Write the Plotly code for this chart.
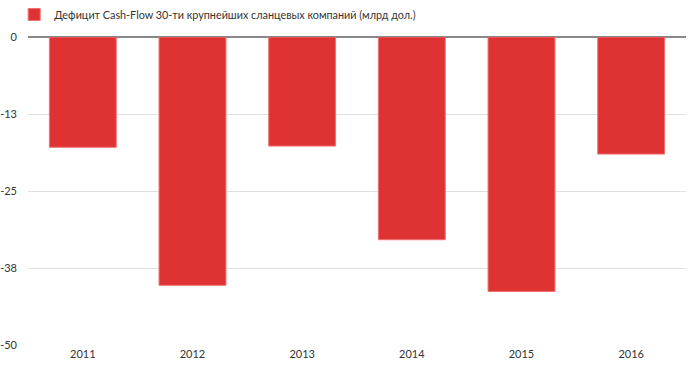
import plotly.graph_objects as go

years = ["2011", "2012", "2013", "2014", "2015", "2016"]
deficit = [-17.9, -40.3, -17.7, -32.9, -41.3, -19.0]
series_name = "Дефицит Cash-Flow 30-ти крупнейших сланцевых компаний (млрд дол.)"
tick_vals = [0, -12.5, -25, -37.5, -50]
tick_text = ["0", "-13", "-25", "-38", "-50"]

fig = go.Figure()
fig.add_trace(go.Bar(
    x=years, y=deficit, name=series_name,
    marker=dict(color="#df3333", line=dict(color="#f07070", width=1)),
    width=0.61, showlegend=True,
))

fig.update_layout(
    width=691, height=377,
    margin=dict(l=28, r=5, t=37, b=31, autoexpand=False),
    paper_bgcolor="white", plot_bgcolor="white",
    font=dict(family="Lato, Noto Sans, sans-serif", size=11, color="#333333"),
    showlegend=True,
    legend=dict(x=-0.021, y=1.026, xanchor="left", yanchor="bottom",
                orientation="h", font=dict(size=10.8, color="#333333"),
                bgcolor="rgba(0,0,0,0)", borderwidth=0,
                tracegroupgap=0, itemwidth=30),
    bargap=0.39,
)
fig.update_xaxes(showgrid=False, showline=False, ticks="", zeroline=False,
                 tickfont=dict(size=11, color="#333333"))
fig.update_yaxes(range=[-50.15, 0], tickvals=tick_vals, ticktext=tick_text,
                 showgrid=True, gridcolor="#e0e0e0", gridwidth=1,
                 zeroline=True, zerolinecolor="#888888", zerolinewidth=2,
                 showline=False, ticks="", ticklabelstandoff=10,
                 tickfont=dict(size=11, color="#333333"))

fig.write_html("out.html", config={"displayModeBar": False},
               post_script="document.body.style.margin='0px';")
